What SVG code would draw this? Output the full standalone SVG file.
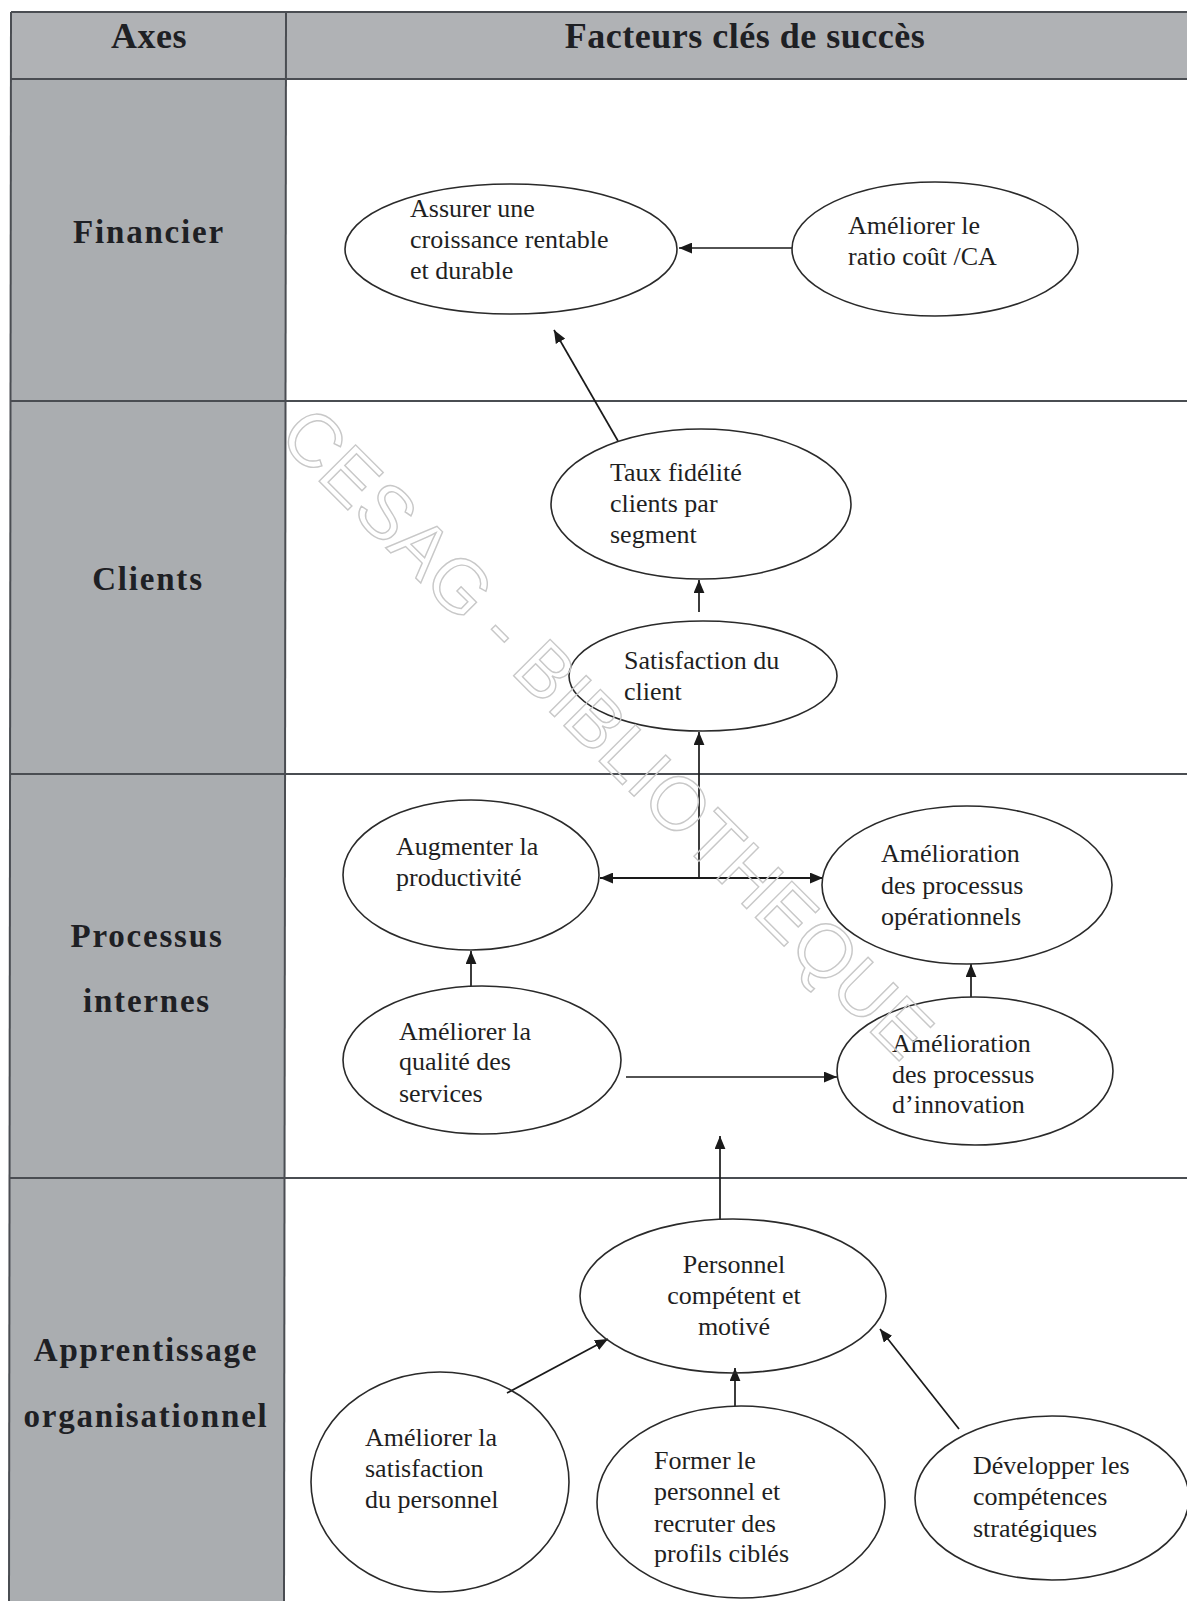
<svg xmlns="http://www.w3.org/2000/svg" width="1187" height="1601" viewBox="0 0 1187 1601">
<defs>
<style>
.cell{fill:#aaadb0;}
.hdr{fill:#b0b2b5;}
.grid{stroke:#4a4d52;stroke-width:2;fill:none;}
.axis{font-family:"Liberation Serif","Times New Roman",serif;font-weight:bold;font-size:33px;letter-spacing:1.8px;fill:#1e2024;text-anchor:middle;}
.head{font-family:"Liberation Serif","Times New Roman",serif;font-weight:bold;font-size:36px;letter-spacing:0.5px;fill:#1e2024;text-anchor:middle;}
.node ellipse{fill:none;stroke:#2a2a2a;stroke-width:1.6;}
.node text{font-family:"Liberation Serif","Times New Roman",serif;font-size:26px;fill:#1f1f1f;}
.c{text-anchor:middle;}
.conn line{stroke:#1a1a1a;stroke-width:1.7;}
.wm{font-family:"Liberation Sans",Arial,sans-serif;font-size:75px;fill:none;stroke:#c8c8c8;stroke-width:1.4;text-anchor:middle;}
</style>
<marker id="ah" viewBox="0 0 12 10" refX="12" refY="5" markerWidth="13" markerHeight="11" markerUnits="userSpaceOnUse" orient="auto-start-reverse">
<path d="M0,0 L12,5 L0,10 Z" fill="#1a1a1a"/>
</marker>
</defs>
<rect x="0" y="0" width="1187" height="1601" fill="#ffffff"/>
<g id="table">
<rect class="hdr" x="11" y="12" width="1176" height="67"/>
<rect class="cell" x="10" y="79" width="275" height="1522"/>
<line class="grid" x1="11" y1="12" x2="1187" y2="12"/>
<line class="grid" x1="10" y1="79" x2="1187" y2="79"/>
<line class="grid" x1="10" y1="401" x2="1187" y2="401"/>
<line class="grid" x1="10" y1="774" x2="1187" y2="774"/>
<line class="grid" x1="10" y1="1178" x2="1187" y2="1178"/>
<line class="grid" x1="11" y1="12" x2="9" y2="1601"/>
<line class="grid" x1="286" y1="12" x2="284" y2="1601"/>
<text class="head" x="149" y="48">Axes</text>
<text class="head" x="745" y="48">Facteurs clés de succès</text>
<text class="axis" x="149" y="243">Financier</text>
<text class="axis" x="148" y="590">Clients</text>
<text class="axis" x="147" y="947">Processus</text>
<text class="axis" x="147" y="1012">internes</text>
<text class="axis" x="146" y="1361">Apprentissage</text>
<text class="axis" x="146" y="1427">organisationnel</text>
</g>
<g id="connectors" class="conn">
<line x1="792" y1="248" x2="679" y2="248" marker-end="url(#ah)"/>
<line x1="618" y1="441" x2="554" y2="330" marker-end="url(#ah)"/>
<line x1="699" y1="612" x2="699" y2="580" marker-end="url(#ah)"/>
<line x1="699" y1="878" x2="699" y2="732" marker-end="url(#ah)"/>
<line x1="600" y1="878" x2="823" y2="878" marker-start="url(#ah)" marker-end="url(#ah)" style="stroke-width:2.2"/>
<line x1="471" y1="986" x2="471" y2="951" marker-end="url(#ah)"/>
<line x1="971" y1="997" x2="971" y2="964" marker-end="url(#ah)"/>
<line x1="626" y1="1077" x2="837" y2="1077" marker-end="url(#ah)"/>
<line x1="720" y1="1220" x2="720" y2="1136" marker-end="url(#ah)"/>
<line x1="507" y1="1393" x2="608" y2="1339" marker-end="url(#ah)"/>
<line x1="735" y1="1406" x2="735" y2="1368" marker-end="url(#ah)"/>
<line x1="959" y1="1429" x2="880" y2="1329" marker-end="url(#ah)"/>
</g>
<g id="n-assurer" class="node">
<ellipse cx="511" cy="249" rx="166" ry="65"/>
<text x="410" y="217">Assurer une</text>
<text x="410" y="248">croissance rentable</text>
<text x="410" y="279">et durable</text>
</g>
<g id="n-ratio" class="node">
<ellipse cx="935" cy="249" rx="143" ry="67"/>
<text x="848" y="234">Améliorer le</text>
<text x="848" y="265">ratio coût /CA</text>
</g>
<g id="n-fidelite" class="node">
<ellipse cx="701" cy="504" rx="150" ry="75"/>
<text x="610" y="481">Taux fidélité</text>
<text x="610" y="512">clients par</text>
<text x="610" y="543">segment</text>
</g>
<g id="n-satisfaction" class="node">
<ellipse cx="703" cy="676" rx="134" ry="55"/>
<text x="624" y="669">Satisfaction du</text>
<text x="624" y="700">client</text>
</g>
<g id="n-productivite" class="node">
<ellipse cx="471" cy="875" rx="128" ry="75"/>
<text x="396" y="855">Augmenter la</text>
<text x="396" y="886">productivité</text>
</g>
<g id="n-operationnels" class="node">
<ellipse cx="967" cy="885" rx="145" ry="79"/>
<text x="881" y="862">Amélioration</text>
<text x="881" y="894">des processus</text>
<text x="881" y="925">opérationnels</text>
</g>
<g id="n-qualite" class="node">
<ellipse cx="482" cy="1060" rx="139" ry="74"/>
<text x="399" y="1040">Améliorer la</text>
<text x="399" y="1070">qualité des</text>
<text x="399" y="1102">services</text>
</g>
<g id="n-innovation" class="node">
<ellipse cx="975" cy="1071" rx="138" ry="74"/>
<text x="892" y="1052">Amélioration</text>
<text x="892" y="1083">des processus</text>
<text x="892" y="1113">d’innovation</text>
</g>
<g id="n-personnel" class="node">
<ellipse cx="733" cy="1296" rx="153" ry="77"/>
<text class="c" x="734" y="1273">Personnel</text>
<text class="c" x="734" y="1304">compétent et</text>
<text class="c" x="734" y="1335">motivé</text>
</g>
<g id="n-satisf-personnel" class="node">
<ellipse cx="440" cy="1482" rx="129" ry="110"/>
<text x="365" y="1446">Améliorer la</text>
<text x="365" y="1477">satisfaction</text>
<text x="365" y="1508">du personnel</text>
</g>
<g id="n-former" class="node">
<ellipse cx="741" cy="1502" rx="144" ry="96"/>
<text x="654" y="1469">Former le</text>
<text x="654" y="1500">personnel et</text>
<text x="654" y="1532">recruter des</text>
<text x="654" y="1562">profils ciblés</text>
</g>
<g id="n-developper" class="node">
<ellipse cx="1052" cy="1498" rx="137" ry="82"/>
<text x="973" y="1474">Développer les</text>
<text x="973" y="1505">compétences</text>
<text x="973" y="1537">stratégiques</text>
</g>
<text class="wm" transform="translate(608,732) rotate(45)" x="0" y="27">CESAG - BIBLIOTHEQUE</text>
</svg>
